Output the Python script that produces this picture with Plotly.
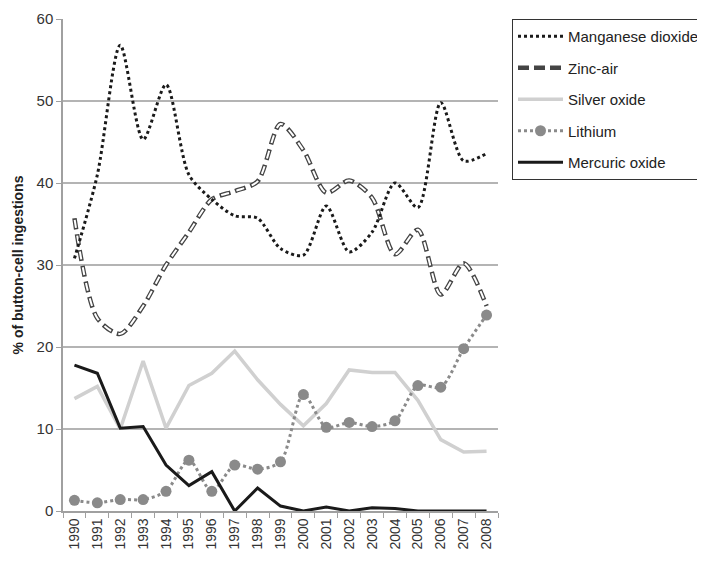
import plotly.graph_objects as go

years = [str(y) for y in range(1990, 2009)]
manganese = [30.8, 41.0, 56.8, 45.3, 52.0, 41.0, 38.0, 36.0, 35.7, 32.0, 31.2, 37.2, 31.6, 34.0, 40.0, 37.0, 49.8, 42.7, 43.6]
zinc_air = [35.7, 23.5, 21.6, 25.0, 30.0, 34.0, 38.0, 39.0, 40.2, 47.2, 44.0, 38.8, 40.3, 38.2, 31.3, 34.3, 26.4, 30.2, 25.0]
silver = [13.7, 15.2, 10.0, 18.3, 10.1, 15.3, 16.8, 19.5, 16.0, 13.0, 10.4, 13.1, 17.2, 16.9, 16.9, 13.5, 8.7, 7.2, 7.3]
lithium = [1.3, 1.0, 1.4, 1.4, 2.4, 6.2, 2.4, 5.6, 5.1, 6.0, 14.2, 10.2, 10.8, 10.3, 11.0, 15.3, 15.1, 19.8, 23.9]
mercuric = [17.8, 16.8, 10.1, 10.3, 5.6, 3.1, 4.8, 0.0, 2.8, 0.6, 0.0, 0.5, 0.0, 0.4, 0.3, 0.0, 0.0, 0.0, 0.0]

fig = go.Figure()
fig.add_trace(go.Scatter(x=years, y=silver, name="Silver oxide", mode="lines",
                         line=dict(color="#d0d0d0", width=3.5), legendgroup="c", legendrank=3))
fig.add_trace(go.Scatter(x=years, y=lithium, name="Lithium", mode="lines+markers",
                         line=dict(color="#8a8a8a", width=3, dash="dot", shape="spline", smoothing=0.8),
                         marker=dict(size=11, color="#8a8a8a"), legendgroup="d", legendrank=4))
fig.add_trace(go.Scatter(x=years, y=mercuric, name="Mercuric oxide", mode="lines",
                         line=dict(color="#1a1a1a", width=3), legendgroup="e", legendrank=5))
fig.add_trace(go.Scatter(x=years, y=zinc_air, name="Zinc-air", mode="lines",
                         line=dict(color="#444444", width=4.5, dash="11px,5px", shape="spline", smoothing=0.8),
                         legendgroup="b", legendrank=2))
fig.add_trace(go.Scatter(x=years, y=zinc_air, name="Zinc-air", mode="lines", showlegend=False,
                         line=dict(color="white", width=2, dash="0px,1.5px,8px,6.5px", shape="spline", smoothing=0.8),
                         legendgroup="b", hoverinfo="skip"))
fig.add_trace(go.Scatter(x=years, y=manganese, name="Manganese dioxide", mode="lines",
                         line=dict(color="#1a1a1a", width=3, dash="dot", shape="spline", smoothing=0.8),
                         legendgroup="a", legendrank=1))

fig.update_layout(
    width=705, height=561,
    margin=dict(l=55, r=215, t=11, b=58),
    paper_bgcolor="white", plot_bgcolor="white",
    font=dict(family="Liberation Sans, Arial, sans-serif", color="#333333"),
    showlegend=True,
    legend=dict(xref="container", yref="container", x=504 / 705, y=1 - 11 / 561,
                xanchor="left", yanchor="top",
                bordercolor="#333333", borderwidth=1,
                font=dict(size=15, color="#222222"),
                traceorder="grouped", tracegroupgap=9, itemwidth=45),
    xaxis=dict(type="category", tickson="boundaries", ticks="outside", ticklen=5,
               tickcolor="#a0a0a0", showline=True, linecolor="#a0a0a0", linewidth=1.5,
               tickangle=-90, tickfont=dict(size=14, color="#333333"), showgrid=False,
               range=[-0.5, 18.5], automargin=False),
    yaxis=dict(range=[0, 60], dtick=10, ticks="outside", ticklen=5, tickcolor="#a0a0a0",
               showline=True, linecolor="#a0a0a0", linewidth=1.5,
               gridcolor="#b4b4b4", gridwidth=1.5, zeroline=False, automargin=False,
               tickfont=dict(size=15, color="#333333"),
               title=dict(text="<b>% of button-cell ingestions</b>", font=dict(size=14, color="#222222"), standoff=10)),
)
fig.write_html("out.html")
